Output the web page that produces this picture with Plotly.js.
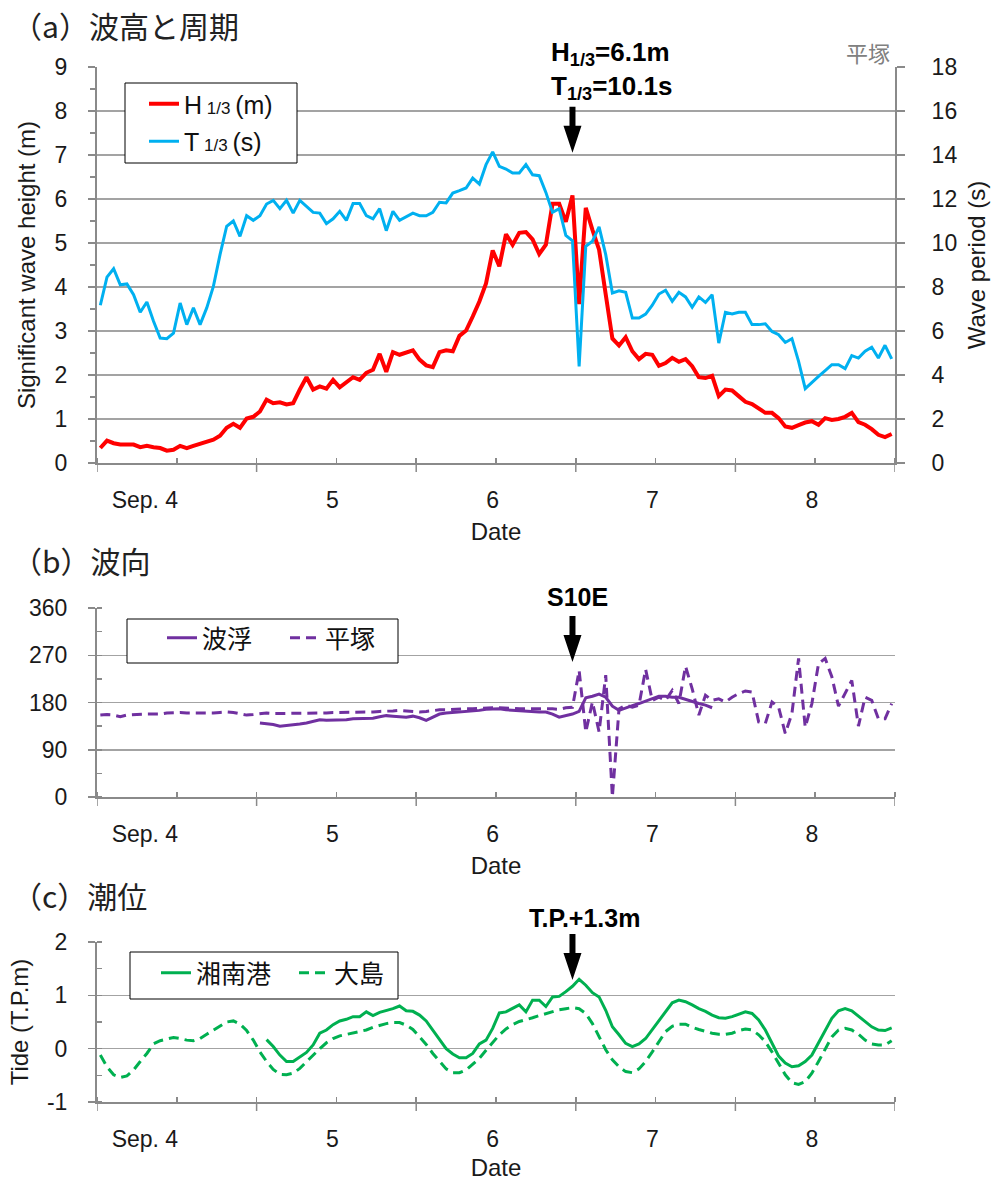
<!DOCTYPE html>
<html><head><meta charset="utf-8">
<script src="https://cdn.plot.ly/plotly-3.0.1.min.js"></script>
<style>body{margin:0;background:#fff}#chart{width:1003px;height:1181px}</style>
</head><body><div id="chart"></div>
<script>
// hourly records from Sep. 4 00:00 (hour index)
const hours = Array.from({length: 120}, (_, i) => i);
const dayLabelPos = [6.7, 34.9, 59.0, 83.0, 107.0];
const dayLabels = ['Sep. 4', '5', '6', '7', '8'];
const dayBoundaries = [-0.5, 23.5, 47.5, 71.5, 95.5, 119.5];

// (a) significant wave height (m) and period (s) — 平塚
const waveHeight = [
  0.34,0.51,0.45,0.42,0.42,0.42,0.36,0.39,0.36,0.34,
  0.28,0.30,0.39,0.34,0.39,0.43,0.48,0.53,0.62,0.80,
  0.89,0.80,1.01,1.05,1.17,1.44,1.36,1.38,1.33,1.36,
  1.67,1.95,1.67,1.74,1.69,1.89,1.72,1.84,1.95,1.89,
  2.05,2.12,2.48,2.07,2.52,2.46,2.52,2.56,2.35,2.22,
  2.18,2.52,2.56,2.54,2.89,3.01,3.33,3.67,4.08,4.83,
  4.47,5.20,4.96,5.23,5.25,5.08,4.75,4.96,5.89,5.89,
  5.48,6.08,3.61,5.80,5.30,4.85,3.83,2.83,2.67,2.86,
  2.54,2.36,2.48,2.46,2.21,2.27,2.39,2.30,2.36,2.20,
  1.95,1.93,1.98,1.52,1.67,1.65,1.52,1.39,1.34,1.25,
  1.14,1.14,1.02,0.83,0.80,0.86,0.92,0.95,0.87,1.02,
  0.98,1.00,1.05,1.14,0.93,0.87,0.77,0.64,0.59,0.66];
const wavePeriod = [
  7.17,8.45,8.83,8.10,8.14,7.65,6.85,7.32,6.44,5.68,
  5.65,5.90,7.27,6.29,7.05,6.29,7.05,8.03,9.47,10.76,
  11.00,10.30,11.24,11.03,11.24,11.77,11.94,11.56,11.94,11.36,
  11.94,11.67,11.39,11.36,10.88,11.10,11.44,11.03,11.79,11.79,
  11.24,11.10,11.56,10.56,11.44,11.03,11.20,11.36,11.24,11.24,
  11.39,11.85,11.82,12.27,12.38,12.50,12.95,12.68,13.56,14.14,
  13.48,13.36,13.18,13.18,13.56,13.10,13.06,12.30,11.39,11.56,
  10.35,10.10,4.39,9.85,10.08,10.73,9.47,7.73,7.83,7.76,
  6.59,6.59,6.77,7.17,7.68,7.85,7.35,7.76,7.55,7.08,
  7.55,7.30,7.65,5.45,6.85,6.77,6.85,6.85,6.29,6.29,
  6.33,5.98,5.83,5.48,5.65,4.62,3.38,3.67,3.94,4.20,
  4.47,4.47,4.29,4.88,4.77,5.08,5.26,4.77,5.35,4.73];

// (b) wave direction (deg)
const habuStart = 24;
const habuDir = [
  141,140,138,135,136,137,139,141,144,147,
  146,146,146,147,149,149,149,150,153,155,
  154,153,152,154,151,146,152,158,160,161,
  162,162,163,165,167,168,168,166,165,164,
  163,163,162,162,158,152,155,158,163,189,
  192,196,190,173,165,170,174,178,183,187,
  192,192,190,190,186,181,178,175,170];
const hiratsukaDir = [
  156,157,156,153,156,157,157,158,158,158,
  160,161,161,160,160,159,160,160,161,162,
  161,158,156,157,159,160,159,159,159,159,
  159,159,159,159,160,161,161,161,161,161,
  162,162,163,163,164,165,164,163,162,163,
  165,166,166,167,167,168,168,169,170,170,
  170,170,169,168,168,169,169,169,168,167,
  170,171,241,124,181,124,232,0,168,175,
  171,175,243,184,190,184,203,178,249,206,
  156,194,184,187,181,190,197,202,200,143,
  140,181,171,121,159,264,133,178,254,264,
  229,173,197,222,135,190,184,149,149,178];

// (c) tide level (T.P. m)
const shonanStart = 25;
const shonanTide = [
  0.17,0.04,-0.12,-0.24,-0.24,-0.15,-0.07,0.07,0.29,0.35,
  0.45,0.52,0.55,0.60,0.60,0.69,0.62,0.68,0.71,0.75,
  0.80,0.71,0.70,0.63,0.52,0.35,0.19,0.00,-0.10,-0.17,
  -0.17,-0.09,0.09,0.16,0.38,0.67,0.69,0.75,0.82,0.69,
  0.91,0.91,0.79,0.97,0.98,1.07,1.17,1.30,1.19,1.05,
  0.97,0.72,0.41,0.26,0.10,0.04,0.09,0.19,0.36,0.52,
  0.69,0.86,0.91,0.88,0.82,0.75,0.70,0.63,0.58,0.57,
  0.60,0.64,0.69,0.66,0.54,0.35,0.10,-0.14,-0.27,-0.34,
  -0.32,-0.24,-0.12,0.11,0.36,0.57,0.71,0.75,0.71,0.61,
  0.52,0.41,0.35,0.34,0.39];
const oshimaTide = [
  -0.12,-0.34,-0.49,-0.54,-0.51,-0.40,-0.24,-0.09,0.09,0.15,
  0.18,0.21,0.19,0.16,0.15,0.19,0.27,0.35,0.42,0.50,
  0.52,0.46,0.34,0.16,-0.06,-0.24,-0.39,-0.48,-0.49,-0.46,
  -0.37,-0.24,-0.12,0.00,0.11,0.19,0.24,0.27,0.30,0.32,
  0.35,0.40,0.44,0.47,0.49,0.49,0.44,0.36,0.22,0.08,
  -0.09,-0.24,-0.38,-0.45,-0.45,-0.40,-0.29,-0.18,-0.03,0.12,
  0.26,0.37,0.45,0.51,0.54,0.58,0.62,0.66,0.70,0.73,
  0.75,0.77,0.75,0.66,0.47,0.22,-0.02,-0.21,-0.34,-0.43,
  -0.45,-0.38,-0.24,-0.06,0.13,0.32,0.42,0.46,0.46,0.40,
  0.36,0.32,0.29,0.27,0.27,0.29,0.34,0.37,0.35,0.26,
  0.13,-0.06,-0.27,-0.49,-0.64,-0.67,-0.62,-0.46,-0.24,0.00,
  0.22,0.35,0.38,0.35,0.27,0.16,0.09,0.07,0.07,0.15];

// peak marker
const peakHour = 71;
const peakHeightTip = 7.05, peakDirTip = 257;

const AX = '#8a8a8a', GR = '#a3a3a3';
const LAT = 'Liberation Sans, Arial, sans-serif';
const CJK = 'Noto Sans CJK JP, sans-serif';
const TF = {family: LAT, size: 23, color: '#1a1a1a'};
const TT = {family: LAT, size: 24, color: '#1a1a1a'};

const traces = [
  {x: hours, y: waveHeight, xaxis: 'x', yaxis: 'y', type: 'scatter', mode: 'lines',
   name: 'H<span style="font-size:17px"> 1/3 </span>(m)', legend: 'legend', legendgroup: 'h',
   line: {color: '#ff0000', width: 4}},
  {x: hours, y: wavePeriod, xaxis: 'x', yaxis: 'y2', type: 'scatter', mode: 'lines',
   name: 'T<span style="font-size:17px"> 1/3 </span>(s)', legend: 'legend', legendgroup: 't',
   line: {color: '#00b0f0', width: 3}},
  {x: hours.slice(habuStart, habuStart + habuDir.length), y: habuDir, xaxis: 'x2', yaxis: 'y3',
   type: 'scatter', mode: 'lines', name: '波浮', legend: 'legend2',
   line: {color: '#7030a0', width: 3}},
  {x: hours, y: hiratsukaDir, xaxis: 'x2', yaxis: 'y3', type: 'scatter', mode: 'lines',
   name: '平塚', legend: 'legend2', line: {color: '#7030a0', width: 3, dash: '10px,6px'}},
  {x: hours.slice(shonanStart, shonanStart + shonanTide.length), y: shonanTide, xaxis: 'x3', yaxis: 'y4',
   type: 'scatter', mode: 'lines', name: '湘南港', legend: 'legend3',
   line: {color: '#00b050', width: 3}},
  {x: hours, y: oshimaTide, xaxis: 'x3', yaxis: 'y4', type: 'scatter', mode: 'lines',
   name: '大島', legend: 'legend3', line: {color: '#00b050', width: 3, dash: '10px,6px'}}
];

function xAxis(anchor) {
  return {anchor: anchor, domain: [0, 1], range: [-0.5, 119.5], showline: true, linecolor: AX, linewidth: 2,
    showgrid: false, zeroline: false, tickmode: 'array', tickvals: dayLabelPos, ticktext: dayLabels,
    ticks: '', tickfont: TF, ticklabelstandoff: 15,
    minor: {tickmode: 'linear', tick0: -0.5, dtick: 12, ticks: 'inside', ticklen: 5, tickwidth: 1.5, tickcolor: AX},
    title: {text: 'Date', font: TT, standoff: 12}};
}
function yAxis(domain, anchor, range, dtick, mdtick, minorSide, title) {
  const a = {domain: domain, anchor: anchor, range: range, tickmode: 'linear', tick0: range[0], dtick: dtick,
    ticks: 'outside', ticklen: 7, tickwidth: 1.5, tickcolor: AX, showline: true, linecolor: AX, linewidth: 2,
    showgrid: true, gridcolor: GR, gridwidth: 1.5, zeroline: false, tickfont: TF, ticklabelstandoff: 16,
    minor: {tickmode: 'linear', tick0: range[0], dtick: mdtick, ticks: minorSide, ticklen: 5, tickwidth: 1.5, tickcolor: AX, showgrid: false}};
  if (title) a.title = {text: title, font: TT, standoff: 12};
  return a;
}

const py = p => 1 - p / 1181;   // layout helper: pixel row -> paper
const px = p => (p - 97) / 798; // layout helper: pixel column -> paper

const ya4 = yAxis([py(1102), py(942)], 'x3', [-1, 2], 1, 0.5, 'inside', 'Tide (T.P.m)');
ya4.tickmode = 'array'; ya4.tickvals = [-1, 0, 1, 2]; ya4.ticktext = ['-1', '0', '1', '2'];

const arrowPath = 'M0,0 L-9,27 L-3,27 L-3,46 L3,46 L3,27 L9,27 Z';
const legendBase = {bgcolor: 'rgba(0,0,0,0)', borderwidth: 0, xanchor: 'left', yanchor: 'top'};
const ann = (text, x, y, font, extra) => Object.assign({text: text, xref: 'paper', yref: 'paper', x: x, y: y,
  showarrow: false, font: font}, extra || {});
const legendFrame = (l, t, r, b) => ({type: 'rect', xref: 'paper', yref: 'paper', x0: px(l), x1: px(r),
  y0: py(b), y1: py(t), fillcolor: 'white', line: {color: 'black', width: 1}, layer: 'above'});

// long day-boundary tick marks below each date axis
const boundaryTicks = [];
[['x', 463], ['x2', 797], ['x3', 1102]].forEach(([xr, yPix]) => {
  dayBoundaries.forEach(b => boundaryTicks.push({type: 'line', xref: xr, yref: 'paper', x0: b, x1: b,
    y0: py(yPix), y1: py(yPix + 9), line: {color: AX, width: 1.5}}));
});

const layout = {
  width: 1003, height: 1181, margin: {l: 97, r: 108, t: 0, b: 0},
  paper_bgcolor: 'white', plot_bgcolor: 'white', showlegend: true, hovermode: false,
  xaxis: xAxis('y'), xaxis2: xAxis('y3'), xaxis3: xAxis('y4'),
  yaxis: yAxis([py(463), py(67)], 'x', [0, 9], 1, 0.5, 'outside', 'Significant wave height (m)'),
  yaxis2: {overlaying: 'y', side: 'right', anchor: 'x', range: [0, 18], tickmode: 'linear', tick0: 0, dtick: 2,
    ticks: 'outside', ticklen: 8, tickwidth: 1.5, tickcolor: AX, showline: true, linecolor: AX, linewidth: 2,
    showgrid: false, zeroline: false, tickfont: TF, ticklabelstandoff: 22,
    title: {text: 'Wave period (s)', font: TT, standoff: 12}},
  yaxis3: yAxis([py(797), py(608)], 'x2', [0, 360], 90, 45, 'inside', null),
  yaxis4: ya4,
  legend: Object.assign({}, legendBase, {x: px(144), y: py(81), orientation: 'v', tracegroupgap: 2,
    font: {family: LAT, size: 25, color: '#111'}}),
  legend2: Object.assign({}, legendBase, {x: px(162), y: py(615), orientation: 'h', entrywidth: 78,
    font: {family: CJK, size: 25, color: '#111'}}),
  legend3: Object.assign({}, legendBase, {x: px(156), y: py(950), orientation: 'h', entrywidth: 93,
    font: {family: CJK, size: 25, color: '#111'}}),
  shapes: boundaryTicks.concat([
    legendFrame(125, 83, 297, 163),
    legendFrame(127, 619, 398, 663),
    legendFrame(130, 952, 398, 999),
    {type: 'rect', xref: 'paper', yref: 'paper', x0: px(530), x1: px(708), y0: py(73), y1: py(61),
     fillcolor: 'white', line: {width: 0}, layer: 'above'},
    {type: 'path', xref: 'x', yref: 'y', xsizemode: 'pixel', ysizemode: 'pixel', xanchor: peakHour,
     yanchor: peakHeightTip, path: arrowPath, fillcolor: 'black', line: {width: 0}},
    {type: 'path', xref: 'x2', yref: 'y3', xsizemode: 'pixel', ysizemode: 'pixel', xanchor: peakHour,
     yanchor: peakDirTip, path: arrowPath, fillcolor: 'black', line: {width: 0}},
    {type: 'path', xref: 'x3', yref: 'paper', xsizemode: 'pixel', ysizemode: 'pixel', xanchor: peakHour,
     yanchor: py(980), path: arrowPath, fillcolor: 'black', line: {width: 0}}
  ]),
  annotations: [
    ann('（a）波高と周期', px(10), py(25), {family: CJK, size: 30, color: '#222'}, {xanchor: 'left', yanchor: 'middle'}),
    ann('（b）波向', px(10), py(560), {family: CJK, size: 30, color: '#222'}, {xanchor: 'left', yanchor: 'middle'}),
    ann('（c）潮位', px(10), py(895), {family: CJK, size: 30, color: '#222'}, {xanchor: 'left', yanchor: 'middle'}),
    ann('平塚', px(868), py(52), {family: CJK, size: 22, color: '#808080'}, {xanchor: 'center', yanchor: 'middle'}),
    ann('<b>H<sub>1/3</sub>=6.1m<br>T<sub>1/3</sub>=10.1s</b>', px(549), py(70), {family: LAT, size: 26, color: '#000'},
      {xanchor: 'left', yanchor: 'middle', align: 'left'}),
    ann('<b>S10E</b>', px(577), py(597), {family: LAT, size: 25, color: '#000'}, {xanchor: 'center', yanchor: 'middle'}),
    ann('<b>T.P.+1.3m</b>', px(584), py(918), {family: LAT, size: 25, color: '#000'}, {xanchor: 'center', yanchor: 'middle'})
  ]
};

Plotly.newPlot('chart', traces, layout, {staticPlot: true, displayModeBar: false});
</script>
</body></html>
